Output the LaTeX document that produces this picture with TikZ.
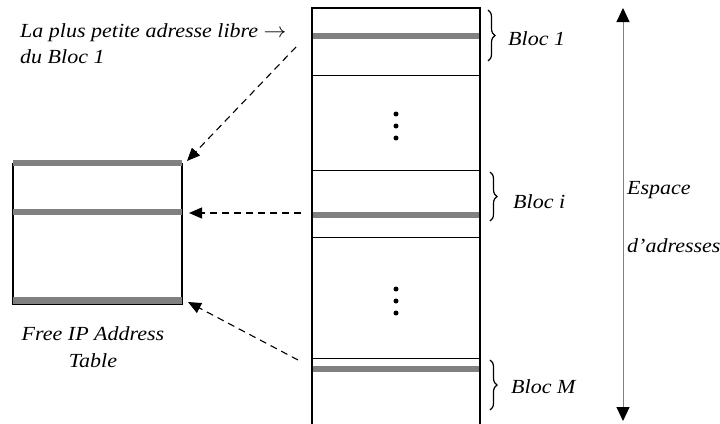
\documentclass[tikz,border=0pt]{standalone}
\usepackage{fontspec}
\setmainfont{Liberation Serif}
\usetikzlibrary{arrows.meta,decorations.pathreplacing}
\definecolor{bargray}{RGB}{128,128,128}
\tikzset{
  bar/.style={draw=bargray,line width=6.5pt},
  frame/.style={draw=black,line width=1.2pt},
  sep/.style={draw=black,line width=1pt},
  dasharrow/.style={draw=black,line width=1.1pt,dash pattern=on 7pt off 5pt,-{Triangle[length=13pt,width=11pt]}},
  lbl/.style={font=\fontsize{20}{23}\selectfont\itshape,inner sep=0pt,anchor=base west,xscale=1.1},
  brc/.style={decorate,decoration={brace,amplitude=7pt},line width=1.2pt},
  dot/.style={circle,fill=black,inner sep=0pt,minimum size=5pt}
}
\begin{document}
\begin{tikzpicture}[x=1pt,y=-1pt]
\useasboundingbox (0,0) rectangle (720,423);
% address column
\draw[frame] (312,427) -- (312,8) -- (480,8) -- (480,427);
\coordinate (c1) at (312,75);
\coordinate (c2) at (312,170);
\coordinate (c3) at (312,237);
\coordinate (c4) at (312,358);
\draw[sep] (c1) -- +(168,0);
\draw[sep] (c2) -- +(168,0);
\draw[sep] (c3) -- +(168,0);
\draw[sep] (c4) -- +(168,0);
\draw[bar] (312.6,36) -- (479.4,36);
\draw[bar] (312.6,215) -- (479.4,215);
\draw[bar] (312.6,369) -- (479.4,369);
\node[dot] (d1) at (396,114) {};
\node[dot] (d2) at (396,126) {};
\node[dot] (d3) at (396,138) {};
\node[dot] (d4) at (396,289) {};
\node[dot] (d5) at (396,301) {};
\node[dot] (d6) at (396,313) {};
% braces
\draw[brc] (488,10) -- (488,61);
\draw[brc] (490,172) -- (490,221);
\draw[brc] (490,360) -- (490,410);
\node[lbl] (b1) at (508,45) {Bloc 1};
\node[lbl] (bi) at (513,208) {Bloc i};
\node[lbl] (bm) at (511,393) {Bloc M};
% table
\draw[frame] (13,163) -- (13,304) -- (182,304) -- (182,163);
\draw[bar] (13,163) -- (182,163);
\draw[bar] (13,212) -- (182,212);
\draw[bar] (13,300.5) -- (182,300.5);
\node[lbl,anchor=base] (tbl1) at (93,340) {Free IP Address};
\node[lbl,anchor=base] (tbl2) at (93,367) {Table};
% text top left
\node[lbl] (top1) at (20,37) {La plus petite adresse libre $\rightarrow$};
\node[lbl] (top2) at (20,63) {du Bloc 1};
% arrows
\coordinate (a1s) at (296,47);
\coordinate (a1e) at (187,161);
\coordinate (a2s) at (301,213);
\coordinate (a2e) at (189,213);
\coordinate (a3s) at (298,360);
\coordinate (a3e) at (188,302);
\draw[dasharrow] (a1s) -- (a1e);
\draw[dasharrow] (a2s) -- (a2e);
\draw[dasharrow] (a3s) -- (a3e);
% address space arrow
\coordinate (sa) at (623,8);
\coordinate (sb) at (623,421);
\draw[draw=bargray,line width=1pt,{Triangle[length=14pt,width=13pt,color=black]}-{Triangle[length=14pt,width=13pt,color=black]}] (sa) -- (sb);
\node[lbl] (e1) at (627,194) {Espace};
\node[lbl] (e2) at (627,252) {d’adresses};
\end{tikzpicture}
\end{document}
